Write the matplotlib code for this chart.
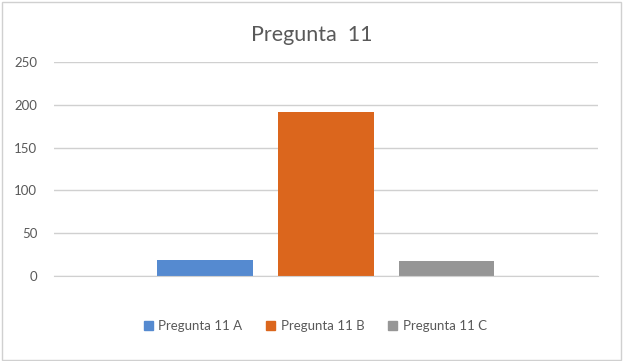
import matplotlib.pyplot as plt
from matplotlib.patches import Rectangle

plt.rcParams['font.family'] = ['Lato', 'DejaVu Sans']

series = ["Pregunta 11 A", "Pregunta 11 B", "Pregunta 11 C"]
values = [19, 192, 17]
colors = ["#558AD0", "#DB661D", "#969696"]
yticks = [0, 50, 100, 150, 200, 250]

fig = plt.figure(figsize=(6.24, 3.61), dpi=100)
ax = fig.add_axes([0.0865, 0.2355, 0.8715, 0.5925])

bars = ax.bar(range(len(values)), values, width=0.79, color=colors, label=series)
handles = [plt.Rectangle((0, 0), 1, 1, color=c) for c in colors]

ax.set_xlim(-1.25, 3.25)
ax.set_ylim(0, 250)
ax.set_yticks(yticks)
ax.set_xticks([])
ax.yaxis.grid(True, color="#D0D0D0", linewidth=1)
ax.set_axisbelow(True)
for s in ["top", "right", "left"]:
    ax.spines[s].set_visible(False)
ax.spines["bottom"].set_color("#D0D0D0")
ax.tick_params(axis="y", length=0, labelsize=9.5, labelcolor="#595959", pad=12)

fig.text(0.5, 0.903, "Pregunta  11", ha="center", va="center", fontsize=15.5, color="#595959")

fig.legend(handles, series, loc="center", bbox_to_anchor=(0.505, 0.097), ncol=3,
           frameon=False, fontsize=9.5, handlelength=0.7, handleheight=0.7,
           handletextpad=0.4, columnspacing=1.8, labelcolor="#595959")

fig.patches.append(Rectangle((0.003, 0.004), 0.992, 0.99, transform=fig.transFigure,
                             fill=False, edgecolor="#D0D0D0", linewidth=1))

fig.savefig("out.png", dpi=100)
